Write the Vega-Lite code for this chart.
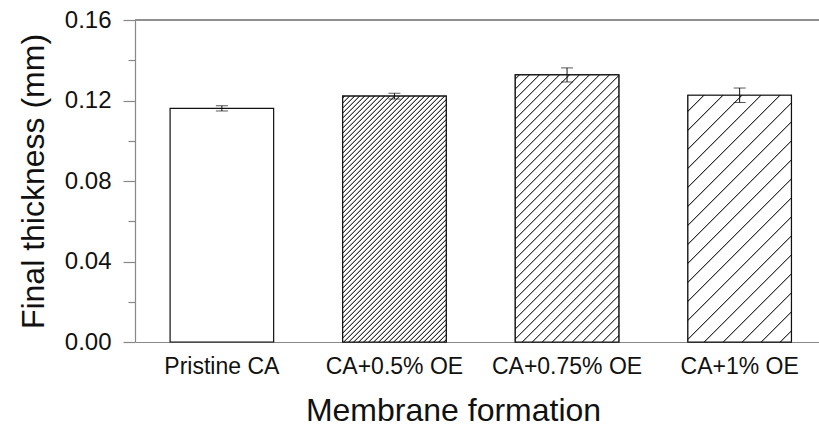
{
  "$schema": "https://vega.github.io/schema/vega-lite/v6.json",
  "width": 684,
  "height": 322,
  "autosize": "none",
  "padding": {"left": 135, "top": 20, "right": 0, "bottom": 87},
  "background": "white",
  "config": {
    "view": {"stroke": null},
    "font": "Liberation Sans"
  },
  "data": {
    "values": [
      {"formation": "Pristine CA", "thickness": 0.1161, "sd": 0.0013},
      {"formation": "CA+0.5% OE", "thickness": 0.1222, "sd": 0.0014},
      {"formation": "CA+0.75% OE", "thickness": 0.1327, "sd": 0.0035},
      {"formation": "CA+1% OE", "thickness": 0.1226, "sd": 0.0036}
    ]
  },
  "layer": [
    {
      "mark": {"type": "rule", "color": "#888", "strokeWidth": 1.2},
      "encoding": {"y": {"datum": 0.16, "type": "quantitative", "title": "Final thickness (mm)", "scale": {"domain": [0, 0.16], "nice": false}}}
    },
    {
      "mark": {"type": "bar", "fill": "white", "stroke": "#111", "strokeWidth": 1.2},
      "encoding": {
        "x": {
          "field": "formation", "type": "nominal", "sort": null,
          "scale": {"paddingInner": 0.4, "paddingOuter": 0.1815, "align": 0.56},
          "axis": {
            "title": "Membrane formation",
            "labelAngle": 0,
            "ticks": false,
            "domainColor": "#888",
            "domainWidth": 1.2,
            "labelColor": "#111",
            "labelFontSize": 23,
            "labelPadding": 13,
            "titleFontSize": 32,
            "titleFontWeight": "normal",
            "titleColor": "#111",
            "titleX": 318,
            "titleY": 78,
            "titleBaseline": "alphabetic"
          }
        },
        "y": {
          "field": "thickness", "type": "quantitative",
          "title": "Final thickness (mm)",
          "scale": {"domain": [0, 0.16], "nice": false},
          "axis": {
            "values": [0, 0.02, 0.04, 0.06, 0.08, 0.1, 0.12, 0.14, 0.16],
            "format": ".2f",
            "labelExpr": "round(datum.value * 100) % 4 == 0 ? datum.label : ''",
            "tickSize": {"condition": {"test": "round(datum.value * 100) % 4 == 0", "value": 12}, "value": 7},
            "grid": false,
            "domainColor": "#888",
            "domainWidth": 1.2,
            "tickColor": "#888",
            "tickWidth": 1.2,
            "labelColor": "#111",
            "labelFontSize": 24,
            "labelPadding": 12,
            "titleFontSize": 32,
            "titleFontWeight": "normal",
            "titleColor": "#111",
            "titleX": -92,
            "titleY": 161,
            "titleAlign": "center",
            "titleBaseline": "alphabetic"
          }
        }
      }
    },
    {
      "transform": [{"filter": "datum.formation === 'CA+0.5% OE'"}],
      "mark": {
        "type": "bar", "stroke": "#111", "strokeWidth": 1.2,
        "fill": {
          "gradient": "linear", "x1": 0, "y1": 0, "x2": 0.5816, "y2": 1.3819,
          "stops": [
            {"offset": 0.002, "color": "#fff"}, {"offset": 0.005, "color": "#111"}, {"offset": 0.008, "color": "#fff"},
            {"offset": 0.0145, "color": "#fff"}, {"offset": 0.0175, "color": "#111"}, {"offset": 0.0205, "color": "#fff"},
            {"offset": 0.027, "color": "#fff"}, {"offset": 0.03, "color": "#111"}, {"offset": 0.033, "color": "#fff"},
            {"offset": 0.0395, "color": "#fff"}, {"offset": 0.0425, "color": "#111"}, {"offset": 0.0455, "color": "#fff"},
            {"offset": 0.052, "color": "#fff"}, {"offset": 0.055, "color": "#111"}, {"offset": 0.058, "color": "#fff"},
            {"offset": 0.0645, "color": "#fff"}, {"offset": 0.0675, "color": "#111"}, {"offset": 0.0705, "color": "#fff"},
            {"offset": 0.077, "color": "#fff"}, {"offset": 0.08, "color": "#111"}, {"offset": 0.083, "color": "#fff"},
            {"offset": 0.0895, "color": "#fff"}, {"offset": 0.0925, "color": "#111"}, {"offset": 0.0955, "color": "#fff"},
            {"offset": 0.102, "color": "#fff"}, {"offset": 0.105, "color": "#111"}, {"offset": 0.108, "color": "#fff"},
            {"offset": 0.1145, "color": "#fff"}, {"offset": 0.1175, "color": "#111"}, {"offset": 0.1205, "color": "#fff"},
            {"offset": 0.127, "color": "#fff"}, {"offset": 0.13, "color": "#111"}, {"offset": 0.133, "color": "#fff"},
            {"offset": 0.1395, "color": "#fff"}, {"offset": 0.1425, "color": "#111"}, {"offset": 0.1455, "color": "#fff"},
            {"offset": 0.152, "color": "#fff"}, {"offset": 0.155, "color": "#111"}, {"offset": 0.158, "color": "#fff"},
            {"offset": 0.1645, "color": "#fff"}, {"offset": 0.1675, "color": "#111"}, {"offset": 0.1705, "color": "#fff"},
            {"offset": 0.177, "color": "#fff"}, {"offset": 0.18, "color": "#111"}, {"offset": 0.183, "color": "#fff"},
            {"offset": 0.1895, "color": "#fff"}, {"offset": 0.1925, "color": "#111"}, {"offset": 0.1955, "color": "#fff"},
            {"offset": 0.202, "color": "#fff"}, {"offset": 0.205, "color": "#111"}, {"offset": 0.208, "color": "#fff"},
            {"offset": 0.2145, "color": "#fff"}, {"offset": 0.2175, "color": "#111"}, {"offset": 0.2205, "color": "#fff"},
            {"offset": 0.227, "color": "#fff"}, {"offset": 0.23, "color": "#111"}, {"offset": 0.233, "color": "#fff"},
            {"offset": 0.2395, "color": "#fff"}, {"offset": 0.2425, "color": "#111"}, {"offset": 0.2455, "color": "#fff"},
            {"offset": 0.252, "color": "#fff"}, {"offset": 0.255, "color": "#111"}, {"offset": 0.258, "color": "#fff"},
            {"offset": 0.2645, "color": "#fff"}, {"offset": 0.2675, "color": "#111"}, {"offset": 0.2705, "color": "#fff"},
            {"offset": 0.277, "color": "#fff"}, {"offset": 0.28, "color": "#111"}, {"offset": 0.283, "color": "#fff"},
            {"offset": 0.2895, "color": "#fff"}, {"offset": 0.2925, "color": "#111"}, {"offset": 0.2955, "color": "#fff"},
            {"offset": 0.302, "color": "#fff"}, {"offset": 0.305, "color": "#111"}, {"offset": 0.308, "color": "#fff"},
            {"offset": 0.3145, "color": "#fff"}, {"offset": 0.3175, "color": "#111"}, {"offset": 0.3205, "color": "#fff"},
            {"offset": 0.327, "color": "#fff"}, {"offset": 0.33, "color": "#111"}, {"offset": 0.333, "color": "#fff"},
            {"offset": 0.3395, "color": "#fff"}, {"offset": 0.3425, "color": "#111"}, {"offset": 0.3455, "color": "#fff"},
            {"offset": 0.352, "color": "#fff"}, {"offset": 0.355, "color": "#111"}, {"offset": 0.358, "color": "#fff"},
            {"offset": 0.3645, "color": "#fff"}, {"offset": 0.3675, "color": "#111"}, {"offset": 0.3705, "color": "#fff"},
            {"offset": 0.377, "color": "#fff"}, {"offset": 0.38, "color": "#111"}, {"offset": 0.383, "color": "#fff"},
            {"offset": 0.3895, "color": "#fff"}, {"offset": 0.3925, "color": "#111"}, {"offset": 0.3955, "color": "#fff"},
            {"offset": 0.402, "color": "#fff"}, {"offset": 0.405, "color": "#111"}, {"offset": 0.408, "color": "#fff"},
            {"offset": 0.4145, "color": "#fff"}, {"offset": 0.4175, "color": "#111"}, {"offset": 0.4205, "color": "#fff"},
            {"offset": 0.427, "color": "#fff"}, {"offset": 0.43, "color": "#111"}, {"offset": 0.433, "color": "#fff"},
            {"offset": 0.4395, "color": "#fff"}, {"offset": 0.4425, "color": "#111"}, {"offset": 0.4455, "color": "#fff"},
            {"offset": 0.452, "color": "#fff"}, {"offset": 0.455, "color": "#111"}, {"offset": 0.458, "color": "#fff"},
            {"offset": 0.4645, "color": "#fff"}, {"offset": 0.4675, "color": "#111"}, {"offset": 0.4705, "color": "#fff"},
            {"offset": 0.477, "color": "#fff"}, {"offset": 0.48, "color": "#111"}, {"offset": 0.483, "color": "#fff"},
            {"offset": 0.4895, "color": "#fff"}, {"offset": 0.4925, "color": "#111"}, {"offset": 0.4955, "color": "#fff"},
            {"offset": 0.502, "color": "#fff"}, {"offset": 0.505, "color": "#111"}, {"offset": 0.508, "color": "#fff"},
            {"offset": 0.5145, "color": "#fff"}, {"offset": 0.5175, "color": "#111"}, {"offset": 0.5205, "color": "#fff"},
            {"offset": 0.527, "color": "#fff"}, {"offset": 0.53, "color": "#111"}, {"offset": 0.533, "color": "#fff"},
            {"offset": 0.5395, "color": "#fff"}, {"offset": 0.5425, "color": "#111"}, {"offset": 0.5455, "color": "#fff"},
            {"offset": 0.552, "color": "#fff"}, {"offset": 0.555, "color": "#111"}, {"offset": 0.558, "color": "#fff"},
            {"offset": 0.5645, "color": "#fff"}, {"offset": 0.5675, "color": "#111"}, {"offset": 0.5705, "color": "#fff"},
            {"offset": 0.577, "color": "#fff"}, {"offset": 0.58, "color": "#111"}, {"offset": 0.583, "color": "#fff"},
            {"offset": 0.5895, "color": "#fff"}, {"offset": 0.5925, "color": "#111"}, {"offset": 0.5955, "color": "#fff"},
            {"offset": 0.602, "color": "#fff"}, {"offset": 0.605, "color": "#111"}, {"offset": 0.608, "color": "#fff"},
            {"offset": 0.6145, "color": "#fff"}, {"offset": 0.6175, "color": "#111"}, {"offset": 0.6205, "color": "#fff"},
            {"offset": 0.627, "color": "#fff"}, {"offset": 0.63, "color": "#111"}, {"offset": 0.633, "color": "#fff"},
            {"offset": 0.6395, "color": "#fff"}, {"offset": 0.6425, "color": "#111"}, {"offset": 0.6455, "color": "#fff"},
            {"offset": 0.652, "color": "#fff"}, {"offset": 0.655, "color": "#111"}, {"offset": 0.658, "color": "#fff"},
            {"offset": 0.6645, "color": "#fff"}, {"offset": 0.6675, "color": "#111"}, {"offset": 0.6705, "color": "#fff"},
            {"offset": 0.677, "color": "#fff"}, {"offset": 0.68, "color": "#111"}, {"offset": 0.683, "color": "#fff"},
            {"offset": 0.6895, "color": "#fff"}, {"offset": 0.6925, "color": "#111"}, {"offset": 0.6955, "color": "#fff"},
            {"offset": 0.702, "color": "#fff"}, {"offset": 0.705, "color": "#111"}, {"offset": 0.708, "color": "#fff"},
            {"offset": 0.7145, "color": "#fff"}, {"offset": 0.7175, "color": "#111"}, {"offset": 0.7205, "color": "#fff"},
            {"offset": 0.727, "color": "#fff"}, {"offset": 0.73, "color": "#111"}, {"offset": 0.733, "color": "#fff"},
            {"offset": 0.7395, "color": "#fff"}, {"offset": 0.7425, "color": "#111"}, {"offset": 0.7455, "color": "#fff"},
            {"offset": 0.752, "color": "#fff"}, {"offset": 0.755, "color": "#111"}, {"offset": 0.758, "color": "#fff"},
            {"offset": 0.7645, "color": "#fff"}, {"offset": 0.7675, "color": "#111"}, {"offset": 0.7705, "color": "#fff"},
            {"offset": 0.777, "color": "#fff"}, {"offset": 0.78, "color": "#111"}, {"offset": 0.783, "color": "#fff"},
            {"offset": 0.7895, "color": "#fff"}, {"offset": 0.7925, "color": "#111"}, {"offset": 0.7955, "color": "#fff"},
            {"offset": 0.802, "color": "#fff"}, {"offset": 0.805, "color": "#111"}, {"offset": 0.808, "color": "#fff"},
            {"offset": 0.8145, "color": "#fff"}, {"offset": 0.8175, "color": "#111"}, {"offset": 0.8205, "color": "#fff"},
            {"offset": 0.827, "color": "#fff"}, {"offset": 0.83, "color": "#111"}, {"offset": 0.833, "color": "#fff"},
            {"offset": 0.8395, "color": "#fff"}, {"offset": 0.8425, "color": "#111"}, {"offset": 0.8455, "color": "#fff"},
            {"offset": 0.852, "color": "#fff"}, {"offset": 0.855, "color": "#111"}, {"offset": 0.858, "color": "#fff"},
            {"offset": 0.8645, "color": "#fff"}, {"offset": 0.8675, "color": "#111"}, {"offset": 0.8705, "color": "#fff"}
          ]
        }
      },
      "encoding": {
        "x": {"field": "formation", "type": "nominal", "sort": null},
        "y": {"field": "thickness", "type": "quantitative", "title": "Final thickness (mm)"}
      }
    },
    {
      "transform": [{"filter": "datum.formation === 'CA+0.75% OE'"}],
      "mark": {
        "type": "bar", "stroke": "#111", "strokeWidth": 1.2,
        "fill": {
          "gradient": "linear", "x1": 0, "y1": 0, "x2": 0.5047, "y2": 1.3022,
          "stops": [
            {"offset": 0.007, "color": "#fff"}, {"offset": 0.01, "color": "#111"}, {"offset": 0.013, "color": "#fff"},
            {"offset": 0.032, "color": "#fff"}, {"offset": 0.035, "color": "#111"}, {"offset": 0.038, "color": "#fff"},
            {"offset": 0.057, "color": "#fff"}, {"offset": 0.06, "color": "#111"}, {"offset": 0.063, "color": "#fff"},
            {"offset": 0.082, "color": "#fff"}, {"offset": 0.085, "color": "#111"}, {"offset": 0.088, "color": "#fff"},
            {"offset": 0.107, "color": "#fff"}, {"offset": 0.11, "color": "#111"}, {"offset": 0.113, "color": "#fff"},
            {"offset": 0.132, "color": "#fff"}, {"offset": 0.135, "color": "#111"}, {"offset": 0.138, "color": "#fff"},
            {"offset": 0.157, "color": "#fff"}, {"offset": 0.16, "color": "#111"}, {"offset": 0.163, "color": "#fff"},
            {"offset": 0.182, "color": "#fff"}, {"offset": 0.185, "color": "#111"}, {"offset": 0.188, "color": "#fff"},
            {"offset": 0.207, "color": "#fff"}, {"offset": 0.21, "color": "#111"}, {"offset": 0.213, "color": "#fff"},
            {"offset": 0.232, "color": "#fff"}, {"offset": 0.235, "color": "#111"}, {"offset": 0.238, "color": "#fff"},
            {"offset": 0.257, "color": "#fff"}, {"offset": 0.26, "color": "#111"}, {"offset": 0.263, "color": "#fff"},
            {"offset": 0.282, "color": "#fff"}, {"offset": 0.285, "color": "#111"}, {"offset": 0.288, "color": "#fff"},
            {"offset": 0.307, "color": "#fff"}, {"offset": 0.31, "color": "#111"}, {"offset": 0.313, "color": "#fff"},
            {"offset": 0.332, "color": "#fff"}, {"offset": 0.335, "color": "#111"}, {"offset": 0.338, "color": "#fff"},
            {"offset": 0.357, "color": "#fff"}, {"offset": 0.36, "color": "#111"}, {"offset": 0.363, "color": "#fff"},
            {"offset": 0.382, "color": "#fff"}, {"offset": 0.385, "color": "#111"}, {"offset": 0.388, "color": "#fff"},
            {"offset": 0.407, "color": "#fff"}, {"offset": 0.41, "color": "#111"}, {"offset": 0.413, "color": "#fff"},
            {"offset": 0.432, "color": "#fff"}, {"offset": 0.435, "color": "#111"}, {"offset": 0.438, "color": "#fff"},
            {"offset": 0.457, "color": "#fff"}, {"offset": 0.46, "color": "#111"}, {"offset": 0.463, "color": "#fff"},
            {"offset": 0.482, "color": "#fff"}, {"offset": 0.485, "color": "#111"}, {"offset": 0.488, "color": "#fff"},
            {"offset": 0.507, "color": "#fff"}, {"offset": 0.51, "color": "#111"}, {"offset": 0.513, "color": "#fff"},
            {"offset": 0.532, "color": "#fff"}, {"offset": 0.535, "color": "#111"}, {"offset": 0.538, "color": "#fff"},
            {"offset": 0.557, "color": "#fff"}, {"offset": 0.56, "color": "#111"}, {"offset": 0.563, "color": "#fff"},
            {"offset": 0.582, "color": "#fff"}, {"offset": 0.585, "color": "#111"}, {"offset": 0.588, "color": "#fff"},
            {"offset": 0.607, "color": "#fff"}, {"offset": 0.61, "color": "#111"}, {"offset": 0.613, "color": "#fff"},
            {"offset": 0.632, "color": "#fff"}, {"offset": 0.635, "color": "#111"}, {"offset": 0.638, "color": "#fff"},
            {"offset": 0.657, "color": "#fff"}, {"offset": 0.66, "color": "#111"}, {"offset": 0.663, "color": "#fff"},
            {"offset": 0.682, "color": "#fff"}, {"offset": 0.685, "color": "#111"}, {"offset": 0.688, "color": "#fff"},
            {"offset": 0.707, "color": "#fff"}, {"offset": 0.71, "color": "#111"}, {"offset": 0.713, "color": "#fff"},
            {"offset": 0.732, "color": "#fff"}, {"offset": 0.735, "color": "#111"}, {"offset": 0.738, "color": "#fff"},
            {"offset": 0.757, "color": "#fff"}, {"offset": 0.76, "color": "#111"}, {"offset": 0.763, "color": "#fff"},
            {"offset": 0.782, "color": "#fff"}, {"offset": 0.785, "color": "#111"}, {"offset": 0.788, "color": "#fff"},
            {"offset": 0.807, "color": "#fff"}, {"offset": 0.81, "color": "#111"}, {"offset": 0.813, "color": "#fff"},
            {"offset": 0.832, "color": "#fff"}, {"offset": 0.835, "color": "#111"}, {"offset": 0.838, "color": "#fff"},
            {"offset": 0.857, "color": "#fff"}, {"offset": 0.86, "color": "#111"}, {"offset": 0.863, "color": "#fff"},
            {"offset": 0.882, "color": "#fff"}, {"offset": 0.885, "color": "#111"}, {"offset": 0.888, "color": "#fff"},
            {"offset": 0.907, "color": "#fff"}, {"offset": 0.91, "color": "#111"}, {"offset": 0.913, "color": "#fff"}
          ]
        }
      },
      "encoding": {
        "x": {"field": "formation", "type": "nominal", "sort": null},
        "y": {"field": "thickness", "type": "quantitative", "title": "Final thickness (mm)"}
      }
    },
    {
      "transform": [{"filter": "datum.formation === 'CA+1% OE'"}],
      "mark": {
        "type": "bar", "stroke": "#111", "strokeWidth": 1.2,
        "fill": {
          "gradient": "linear", "x1": 0, "y1": 0, "x2": 0.5784, "y2": 1.3787,
          "stops": [
            {"offset": 0.037, "color": "#fff"}, {"offset": 0.04, "color": "#111"}, {"offset": 0.043, "color": "#fff"},
            {"offset": 0.0845, "color": "#fff"}, {"offset": 0.0875, "color": "#111"}, {"offset": 0.0905, "color": "#fff"},
            {"offset": 0.132, "color": "#fff"}, {"offset": 0.135, "color": "#111"}, {"offset": 0.138, "color": "#fff"},
            {"offset": 0.1795, "color": "#fff"}, {"offset": 0.1825, "color": "#111"}, {"offset": 0.1855, "color": "#fff"},
            {"offset": 0.227, "color": "#fff"}, {"offset": 0.23, "color": "#111"}, {"offset": 0.233, "color": "#fff"},
            {"offset": 0.2745, "color": "#fff"}, {"offset": 0.2775, "color": "#111"}, {"offset": 0.2805, "color": "#fff"},
            {"offset": 0.322, "color": "#fff"}, {"offset": 0.325, "color": "#111"}, {"offset": 0.328, "color": "#fff"},
            {"offset": 0.3695, "color": "#fff"}, {"offset": 0.3725, "color": "#111"}, {"offset": 0.3755, "color": "#fff"},
            {"offset": 0.417, "color": "#fff"}, {"offset": 0.42, "color": "#111"}, {"offset": 0.423, "color": "#fff"},
            {"offset": 0.4645, "color": "#fff"}, {"offset": 0.4675, "color": "#111"}, {"offset": 0.4705, "color": "#fff"},
            {"offset": 0.512, "color": "#fff"}, {"offset": 0.515, "color": "#111"}, {"offset": 0.518, "color": "#fff"},
            {"offset": 0.5595, "color": "#fff"}, {"offset": 0.5625, "color": "#111"}, {"offset": 0.5655, "color": "#fff"},
            {"offset": 0.607, "color": "#fff"}, {"offset": 0.61, "color": "#111"}, {"offset": 0.613, "color": "#fff"},
            {"offset": 0.6545, "color": "#fff"}, {"offset": 0.6575, "color": "#111"}, {"offset": 0.6605, "color": "#fff"},
            {"offset": 0.702, "color": "#fff"}, {"offset": 0.705, "color": "#111"}, {"offset": 0.708, "color": "#fff"},
            {"offset": 0.7495, "color": "#fff"}, {"offset": 0.7525, "color": "#111"}, {"offset": 0.7555, "color": "#fff"},
            {"offset": 0.797, "color": "#fff"}, {"offset": 0.8, "color": "#111"}, {"offset": 0.803, "color": "#fff"},
            {"offset": 0.8445, "color": "#fff"}, {"offset": 0.8475, "color": "#111"}, {"offset": 0.8505, "color": "#fff"}
          ]
        }
      },
      "encoding": {
        "x": {"field": "formation", "type": "nominal", "sort": null},
        "y": {"field": "thickness", "type": "quantitative", "title": "Final thickness (mm)"}
      }
    },
    {
      "mark": {"type": "errorbar", "color": "#111", "ticks": {"size": 12}},
      "encoding": {
        "x": {"field": "formation", "type": "nominal", "sort": null},
        "y": {"field": "thickness", "type": "quantitative", "title": "Final thickness (mm)"},
        "yError": {"field": "sd"}
      }
    }
  ]
}
